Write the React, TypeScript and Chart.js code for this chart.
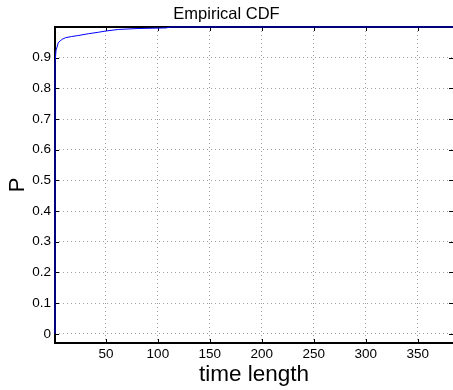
import React, { useEffect, useRef } from "react";
import { Chart, registerables } from "chart.js";

Chart.register(...registerables);

const cdfX = [1, 1, 2, 3, 4, 6, 8, 11, 17, 23, 33, 43, 50, 62, 80, 108, 112, 384];
const cdfY = [0, 0.88, 0.925, 0.935, 0.948, 0.955, 0.96, 0.965, 0.969, 0.972, 0.978, 0.983, 0.987, 0.992, 0.995, 0.997, 1, 1];
const xTicks = [50, 100, 150, 200, 250, 300, 350];
const yTicks = [0, 0.1, 0.2, 0.3, 0.4, 0.5, 0.6, 0.7, 0.8, 0.9];

const FONT = "'Liberation Sans', Arial, Helvetica, sans-serif";

const frame = {
  id: "matlabFrame",
  beforeDatasetsDraw(chart: any) {
    const { ctx, chartArea: a, scales } = chart;
    ctx.save();
    ctx.strokeStyle = "#000";
    ctx.lineWidth = 1;
    ctx.beginPath();
    const tl = 4;
    for (const v of xTicks) {
      const px = Math.round(scales.x.getPixelForValue(v)) + 0.5;
      ctx.moveTo(px, a.bottom);
      ctx.lineTo(px, a.bottom - tl);
      ctx.moveTo(px, a.top);
      ctx.lineTo(px, a.top + tl);
    }
    for (const v of yTicks) {
      const py = Math.round(scales.y.getPixelForValue(v)) + 0.5;
      ctx.moveTo(a.left, py);
      ctx.lineTo(a.left + tl, py);
      ctx.moveTo(a.right, py);
      ctx.lineTo(a.right - tl, py);
    }
    ctx.stroke();
    ctx.lineWidth = 2;
    ctx.beginPath();
    ctx.moveTo(a.right + 2, a.top);
    ctx.lineTo(a.left, a.top);
    ctx.lineTo(a.left, a.bottom);
    ctx.lineTo(a.right + 2, a.bottom);
    ctx.stroke();
    ctx.restore();
  },
};

export default function App() {
  const ref = useRef<HTMLCanvasElement | null>(null);
  useEffect(() => {
    if (!ref.current) return;
    const chart = new Chart(ref.current, {
      type: "line",
      data: {
        datasets: [
          {
            data: cdfX.map((x, i) => ({ x, y: cdfY[i] })),
            borderColor: "#0000ff",
            borderWidth: 1,
            pointRadius: 0,
            tension: 0,
            fill: false,
            clip: false as any,
          },
        ],
      },
      options: {
        animation: false,
        responsive: false,
        devicePixelRatio: 1,
        layout: { padding: { left: 0, right: 0, top: 0, bottom: 0 } },
        plugins: {
          legend: { display: false },
          tooltip: { enabled: false },
          title: {
            display: true,
            text: "Empirical CDF",
            color: "#000",
            font: { family: FONT, size: 16.5, weight: "normal" as any },
            padding: { top: 4.3, bottom: 2.9 },
          },
        },
        scales: {
          x: {
            type: "linear",
            position: "bottom",
            min: 1,
            max: 384,
            afterBuildTicks: (s: any) => {
              s.ticks = xTicks.map((v) => ({ value: v }));
            },
            afterFit: (s: any) => {
              s.height = 47;
            },
            grid: { color: "#a0a0a0", lineWidth: 1, drawTicks: false },
            border: { display: false, dash: [1, 3] },
            ticks: {
              color: "#000",
              font: { family: FONT, size: 13.5 },
              padding: 3,
              maxRotation: 0,
              autoSkip: false,
              callback: (v: any) => String(v),
            },
            title: {
              display: true,
              text: "time length",
              color: "#000",
              font: { family: FONT, size: 22.5 },
              padding: { top: 0, bottom: 1.5 },
            },
          },
          y: {
            type: "linear",
            min: -0.03,
            max: 1,
            afterBuildTicks: (s: any) => {
              s.ticks = yTicks.map((v) => ({ value: v }));
            },
            afterFit: (s: any) => {
              s.width = 55;
            },
            grid: { color: "#a0a0a0", lineWidth: 1, drawTicks: false },
            border: { display: false, dash: [1, 3] },
            ticks: {
              color: "#000",
              font: { family: FONT, size: 13.5 },
              padding: 4,
              autoSkip: false,
              callback: (v: any) => String(v),
            },
            title: {
              display: true,
              text: "P",
              color: "#000",
              font: { family: FONT, size: 22 },
              padding: { top: 5.2, bottom: 0 },
            },
          },
        },
      },
      plugins: [frame],
    });
    return () => chart.destroy();
  }, []);
  return (
    <div style={{ position: "absolute", left: 0, top: 0, width: 453, height: 390, background: "#fff" }}>
      <canvas ref={ref} width={453} height={390} style={{ display: "block", width: 453, height: 390 }} />
    </div>
  );
}
